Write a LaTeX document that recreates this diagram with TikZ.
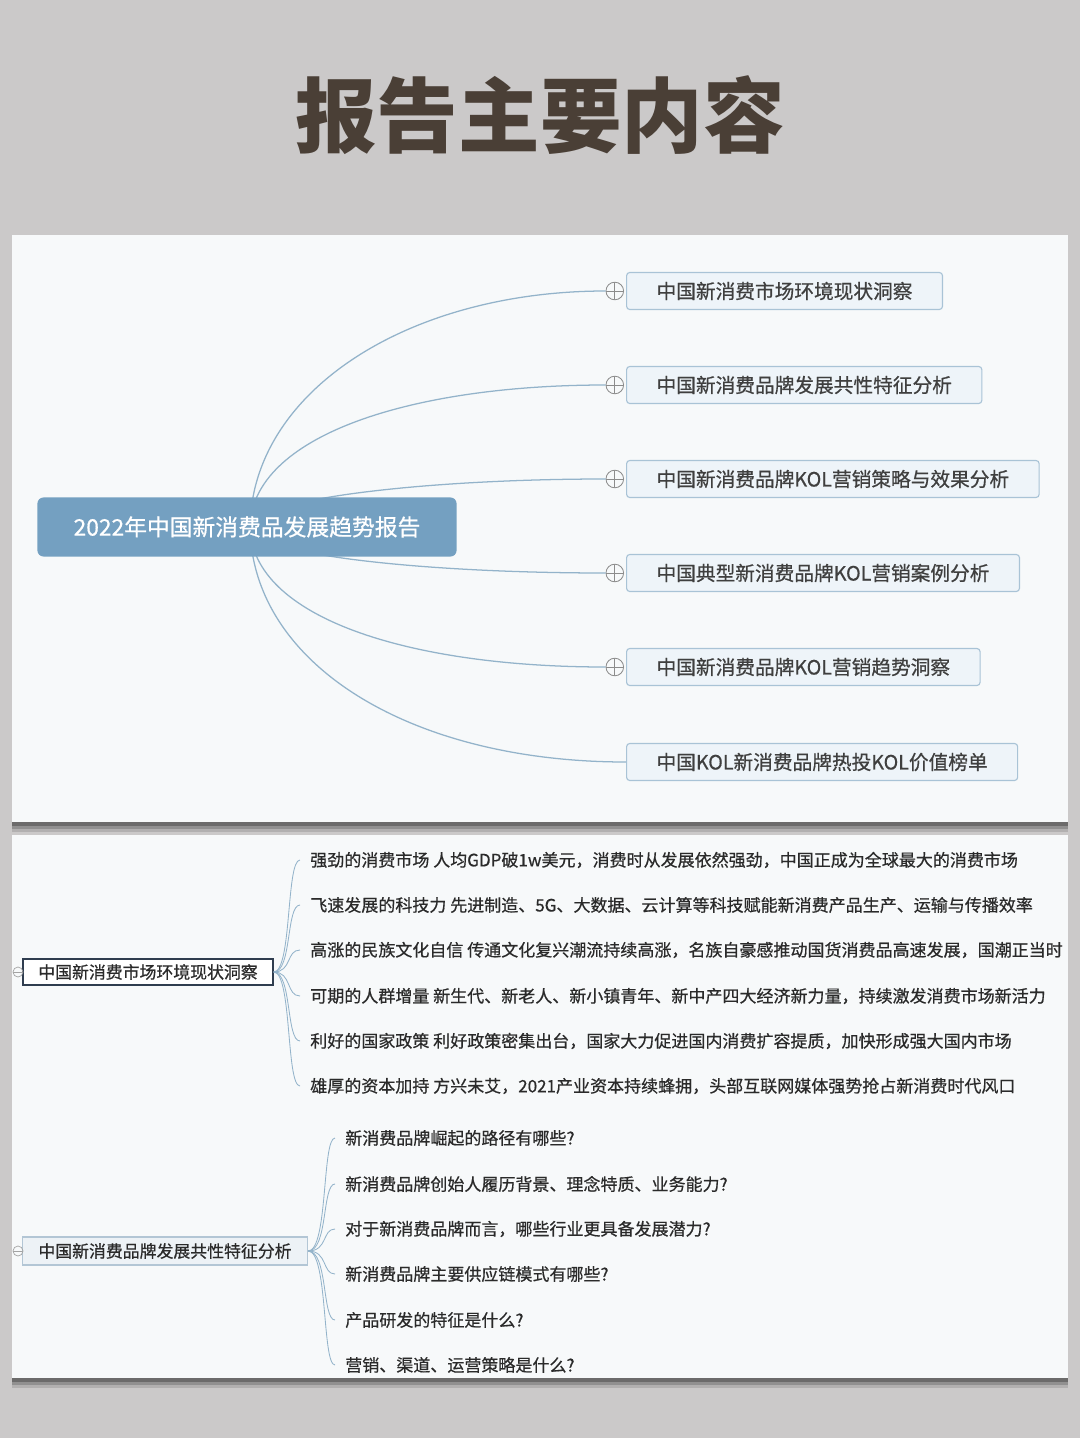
\documentclass[tikz,border=0pt]{standalone}
\usepackage{fontspec}
\setmainfont{Noto Sans CJK SC}
\newfontfamily\medfont{Noto Sans CJK SC}[FakeBold=0.6]
\usepackage{tikz}
\usetikzlibrary{shadows, positioning, calc}

\definecolor{bgGray}{HTML}{CBC9C9}
\definecolor{paperWhite}{HTML}{F7F9FA}
\definecolor{titleBrown}{HTML}{4A3F36}
\definecolor{rootBlue}{HTML}{74A0C1}
\definecolor{topicFill}{HTML}{EEF4F9}
\definecolor{topicLine}{HTML}{A9C3D6}
\definecolor{branchBlue}{HTML}{93B3CA}
\definecolor{inkGray}{HTML}{2A2A2A}
\definecolor{markGray}{HTML}{8C8C8C}
\definecolor{navyLine}{HTML}{2F3D4F}
\definecolor{subFill}{HTML}{EDF2F6}
\definecolor{subLine}{HTML}{B3C6D5}

\begin{document}
\begin{tikzpicture}[
        x=0.025cm, y=-0.025cm,
        panel/.style={
            fill=paperWhite,
            drop shadow={shadow xshift=0pt, shadow yshift=-7pt, opacity=0.12, fill=black},
            drop shadow={shadow xshift=0pt, shadow yshift=-5pt, opacity=0.18, fill=black},
            drop shadow={shadow xshift=0pt, shadow yshift=-3pt, opacity=0.25, fill=black}
        },
        rootbox/.style={
            rectangle, rounded corners=0.15cm, fill=rootBlue, text=white,
            minimum width=10.475cm, minimum height=1.475cm,
            font=\medfont\fontsize{16.2}{19}\selectfont
        },
        topic/.style={
            rectangle, rounded corners=0.08cm, draw=topicLine, fill=topicFill,
            line width=0.8pt, text=inkGray!90, anchor=west,
            inner xsep=0.75cm, minimum height=0.925cm,
            font=\medfont\fontsize{14}{16}\selectfont
        },
        plusmark/.style={
            circle, draw=markGray, fill=paperWhite, line width=0.6pt,
            minimum size=0.44cm, inner sep=0pt,
            path picture={
                \draw[markGray, line width=0.6pt]
                    (path picture bounding box.north) -- (path picture bounding box.south)
                    (path picture bounding box.west) -- (path picture bounding box.east);
            }
        },
        minusmark/.style={
            circle, draw=markGray!80, line width=0.5pt,
            minimum size=0.25cm, inner sep=0pt,
            path picture={
                \draw[markGray!80, line width=0.5pt]
                    (path picture bounding box.west) -- (path picture bounding box.east);
            }
        },
        subtopic/.style={
            rectangle, fill=white, text=inkGray, inner xsep=0.375cm,
            minimum height=0.65cm, font=\medfont\fontsize{12}{14}\selectfont
        },
        leaf/.style={
            anchor=west, inner xsep=0.25cm, inner ysep=1pt, text=inkGray,
            font=\medfont\fontsize{12.1}{14}\selectfont
        },
        branch/.style={draw=branchBlue, line width=0.9pt},
        twig/.style={draw=branchBlue, line width=0.6pt}
    ]
    \useasboundingbox (0,0) rectangle (1080,1438);
    \fill[bgGray] (0,0) rectangle (1080,1438);

    % title
    \node[text=titleBrown, font=\fontsize{58}{62}\bfseries] (title) at (540,115) {报告主要内容};

    % the two sheets
    \path[panel] (12,235) rectangle (1068,822);
    \path[panel] (12,835) rectangle (1068,1378);

    % --- map overview ---
    \node[topic] (t1) at (626,291) {中国新消费市场环境现状洞察};
    \node[topic] (t2) at (626,385) {中国新消费品牌发展共性特征分析};
    \node[topic] (t3) at (626,479) {中国新消费品牌KOL营销策略与效果分析};
    \node[topic] (t4) at (626,573) {中国典型新消费品牌KOL营销案例分析};
    \node[topic] (t5) at (626,667) {中国新消费品牌KOL营销趋势洞察};
    \node[topic] (t6) at (626,762) {中国KOL新消费品牌热投KOL价值榜单};

    \node[plusmark, left=0.05cm of t1] (p1) {};
    \node[plusmark, left=0.05cm of t2] (p2) {};
    \node[plusmark, left=0.05cm of t3] (p3) {};
    \node[plusmark, left=0.05cm of t4] (p4) {};
    \node[plusmark, left=0.05cm of t5] (p5) {};

    \coordinate (rc) at (250,527);
    \draw[branch] (rc) .. controls (252,390) and (410,291) .. (p1.west);
    \draw[branch] (rc) .. controls (252,436) and (410,385) .. (p2.west);
    \draw[branch] (rc) .. controls (250,500) and (420,479) .. (p3.west);
    \draw[branch] (rc) .. controls (250,554) and (420,573) .. (p4.west);
    \draw[branch] (rc) .. controls (252,618) and (410,667) .. (p5.west);
    \draw[branch] (rc) .. controls (252,664) and (410,762) .. (t6.west);

    \node[rootbox] (root) at (247,527) {2022年中国新消费品发展趋势报告};

    % --- detail sheet ---
    \node[subtopic, draw=navyLine, line width=1.4pt] (n1) at (148,972) {中国新消费市场环境现状洞察};
    \node[minusmark] (m1) at (18,972) {};
    \foreach \y/\txt [count=\i] in {
        860/{强劲的消费市场 人均GDP破1w美元，消费时从发展依然强劲，中国正成为全球最大的消费市场},
        905/{飞速发展的科技力 先进制造、5G、大数据、云计算等科技赋能新消费产品生产、运输与传播效率},
        950/{高涨的民族文化自信 传通文化复兴潮流持续高涨，名族自豪感推动国货消费品高速发展，国潮正当时},
        996/{可期的人群增量 新生代、新老人、新小镇青年、新中产四大经济新力量，持续激发消费市场新活力},
        1041/{利好的国家政策 利好政策密集出台，国家大力促进国内消费扩容提质，加快形成强大国内市场},
        1086/{雄厚的资本加持 方兴未艾，2021产业资本持续蜂拥，头部互联网媒体强势抢占新消费时代风口}} {
        \node[leaf] (a\i) at (300,\y) {\txt};
        \draw[twig] (n1.east) .. controls (292,972) and (286,\y) .. (a\i.west);
    }

    \node[subtopic, fill=subFill, draw=subLine, line width=0.8pt, inner xsep=0.4cm, minimum height=0.7cm] (n2) at (165,1251) {中国新消费品牌发展共性特征分析};
    \node[minusmark] (m2) at (18,1251) {};
    \foreach \y/\txt [count=\i] in {
        1138/{新消费品牌崛起的路径有哪些?},
        1184/{新消费品牌创始人履历背景、理念特质、业务能力?},
        1229/{对于新消费品牌而言，哪些行业更具备发展潜力?},
        1274/{新消费品牌主要供应链模式有哪些?},
        1320/{产品研发的特征是什么?},
        1365/{营销、渠道、运营策略是什么?}} {
        \node[leaf] (b\i) at (335,\y) {\txt};
        \draw[twig] (n2.east) .. controls (328,1251) and (322,\y) .. (b\i.west);
    }
\end{tikzpicture}
\end{document}
